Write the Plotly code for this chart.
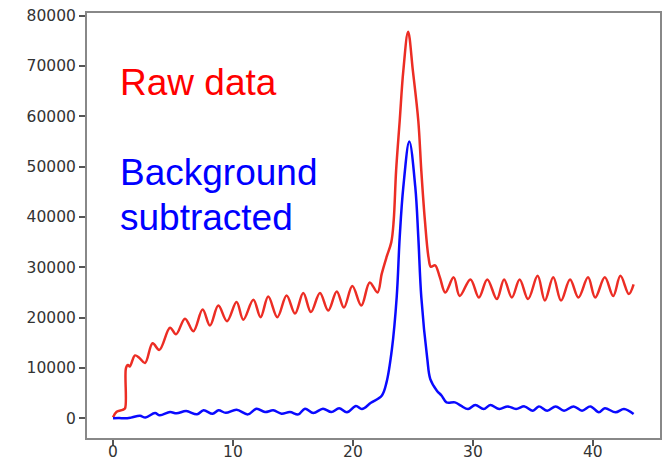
import plotly.graph_objects as go

raw_x = [0.0, 0.3, 0.8, 1.0, 1.08, 1.25, 1.4, 1.83, 2.2, 2.67, 3.3, 3.86, 4.75, 5.25, 6.0, 6.7,
         7.47, 8.08, 8.78, 9.5, 10.3, 10.86, 11.7, 12.3, 12.94, 13.7, 14.47, 15.17, 15.86, 16.5,
         17.25, 17.94, 18.65, 19.25, 19.95, 20.7, 21.4, 22.05, 22.4, 22.8, 23.2, 23.4, 23.6, 23.9,
         24.2, 24.6, 25.0, 25.45, 25.7, 26.0, 26.3, 26.5, 26.85, 27.25, 27.7, 28.4, 28.9, 29.8,
         30.5, 31.2, 32.0, 32.6, 33.25, 33.9, 34.6, 35.4, 36.0, 36.7, 37.35, 38.1, 38.8, 39.6,
         40.2, 41.0, 41.7, 42.3, 43.0, 43.4]
raw_y = [200, 1300, 1700, 2000, 10000, 10600, 10300, 12500, 12000, 11000, 14900, 13600, 18000, 16700,
         19800, 17300, 21600, 18450, 22400, 19300, 23100, 19600, 23550, 20100, 24200, 20100, 24400,
         20800, 24900, 21100, 24900, 21400, 25200, 22000, 26300, 22400, 27000, 25000, 28700, 32000,
         35000, 39300, 49200, 59100, 69000, 76800, 69000, 59100, 49200, 39300, 32000, 30100, 30400,
         28000, 25000, 28000, 24300, 27600, 24000, 27600, 23700, 27600, 24000, 27600, 23700, 28300,
         23400, 28000, 23400, 27600, 24000, 28000, 24000, 28000, 24300, 28300, 24700, 26600]

sub_x = [0.0, 0.5, 1.0, 1.5, 2.25, 2.7, 3.5, 3.9, 4.75, 5.3, 6.1, 7.0, 7.55, 8.3, 8.8, 9.4, 10.3,
         11.25, 11.97, 12.67, 13.36, 14.05, 14.75, 15.45, 16.0, 16.7, 17.5, 18.2, 18.85, 19.5,
         20.25, 20.75, 21.5, 22.4, 22.8, 23.25, 23.65, 23.9, 24.2, 24.7, 25.2, 25.45, 25.7, 26.2,
         26.45, 27.0, 27.4, 27.8, 28.5, 29.0, 29.6, 30.2, 30.9, 31.45, 32.2, 32.9, 33.6, 34.3,
         35.0, 35.5, 36.2, 36.9, 37.6, 38.4, 39.1, 39.8, 40.5, 41.0, 41.9, 42.6, 43.4]
sub_y = [0, 50, 0, 150, 500, 150, 1050, 600, 1250, 1000, 1450, 800, 1600, 900, 1600, 1100, 1720,
         790, 1920, 1250, 1590, 920, 1250, 790, 1920, 1050, 1920, 1250, 2000, 1200, 2450, 1850,
         3100, 4500, 7140, 13750, 24100, 36000, 45900, 55000, 45900, 36000, 24100, 11800, 7800,
         5500, 4500, 3170, 3170, 2510, 1850, 2650, 1850, 2650, 1850, 2380, 1850, 2380, 1520, 2380,
         1520, 2380, 1520, 2380, 1520, 2380, 1190, 2000, 1190, 1850, 860]

x_ticks = [0, 10, 20, 30, 40]
y_ticks = [0, 10000, 20000, 30000, 40000, 50000, 60000, 70000, 80000]

fig = go.Figure()
fig.add_trace(go.Scatter(x=raw_x, y=raw_y, mode="lines",
                         line=dict(color="#ec2d24", width=2.5, shape="spline", smoothing=1.0),
                         name="Raw data", showlegend=False))
fig.add_trace(go.Scatter(x=sub_x, y=sub_y, mode="lines",
                         line=dict(color="#0a0aff", width=2.5, shape="spline", smoothing=1.0),
                         name="Background subtracted", showlegend=False))

L, R, T, B = 87, 4, 13, 26
W, H = 664, 464
pw, ph = W - L - R, H - T - B

def px(xp):
    return (xp - L) / pw

def py(yp):
    return (H - B - yp) / ph

anns = [("Raw data", "red", 118, 82), ("Background", "blue", 118, 172), ("subtracted", "blue", 118, 217)]
for txt, col, xp, yp in anns:
    fig.add_annotation(text=txt, xref="paper", yref="paper", x=px(xp), y=py(yp),
                       xanchor="left", yanchor="middle", showarrow=False,
                       font=dict(family="Liberation Sans, Arial", size=37, color=col))

axis_common = dict(showgrid=False, zeroline=False, showline=True, linecolor="#888888", linewidth=2,
                   mirror=True, ticks="outside", ticklen=6, tickwidth=1.5, tickcolor="#555555",
                   automargin=False,
                   tickfont=dict(family="DejaVu Sans", size=15.5, color="#333333"))

fig.update_xaxes(range=[-2.17, 45.6], tickvals=x_ticks, ticktext=[str(v) for v in x_ticks],
                 ticklabelstandoff=-8, **axis_common)
fig.update_yaxes(range=[-3900, 80500], tickvals=y_ticks, ticktext=[str(v) for v in y_ticks], **axis_common)

fig.update_layout(width=W, height=H, margin=dict(l=L, r=R, t=T, b=B),
                  plot_bgcolor="white", paper_bgcolor="white", showlegend=False)

fig.write_html("out.html", config={"displayModeBar": False},
               post_script="document.body.style.margin='0';document.body.style.overflow='hidden';")
